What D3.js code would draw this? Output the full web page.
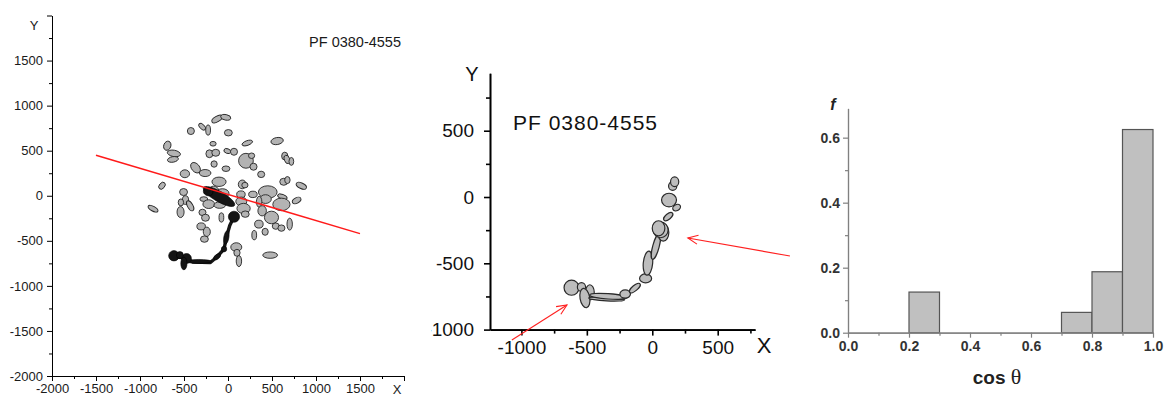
<!DOCTYPE html>
<html><head><meta charset="utf-8">
<script src="https://cdn.jsdelivr.net/npm/d3@7"></script>
<style>
body{margin:0;background:#fff}
svg{display:block}
text{font-family:"Liberation Sans",Arial,Helvetica,sans-serif}
</style>
</head><body>
<svg id="fig" width="1164" height="396"></svg>
<script>
// ---------------- data ----------------
const sampleName = "PF 0380-4555";

// Overview: every grain in the section, [x, y, rx, ry, rotation deg]
const grains = [
  [-124,851,56,26,-30],[-26,870,49,26,10],[-294,766,41,22,45],[-226,729,23,48,0],
  [-422,718,34,33,0],[4,699,38,30,0],[-170,577,30,22,0],[219,585,53,22,-20],
  [558,607,60,33,-10],[-690,555,34,44,20],[-615,470,64,30,10],[-626,403,53,26,-10],
  [-211,466,34,37,0],[-139,477,38,33,0],[-8,496,34,22,20],[68,488,34,33,0],
  [204,388,71,70,0],[268,444,30,26,0],[290,322,34,33,0],[645,440,30,37,0],
  [671,403,26,41,-20],[720,381,23,37,0],[-158,352,30,30,0],[-369,311,38,56,-40],
  [-260,252,56,33,0],[-23,300,38,26,0],[377,237,34,30,0],[-490,244,45,37,0],
  [-750,111,26,37,40],[-102,155,68,44,0],[162,126,38,41,0],[633,155,38,33,0],
  [675,174,26,33,0],[833,111,53,26,25],[-505,41,38,33,0],[-483,-48,30,41,0],
  [-535,-74,26,33,0],[-430,-111,26,52,-30],[-852,-144,53,22,30],[-539,-181,34,52,0],
  [-275,-37,38,22,0],[-219,-93,56,41,0],[-64,26,64,44,0],[-162,63,45,37,0],
  [-94,-104,56,30,0],[147,15,41,33,0],[151,-63,53,41,0],[177,-141,64,48,0],
  [196,-204,38,30,0],[192,118,30,26,0],[283,15,41,30,0],[452,41,90,59,0],
  [426,-37,56,41,0],[618,-11,49,22,20],[607,-96,83,59,0],[780,-52,45,26,-30],
  [354,-67,26,52,0],[388,-167,41,48,0],[494,-241,68,59,0],[351,-315,41,37,0],
  [422,-400,30,33,0],[543,-337,34,30,0],[607,-359,34,30,0],[701,-315,26,56,0],
  [298,-437,23,44,0],[-290,-185,34,30,0],[-256,-244,38,33,0],[-75,-241,23,44,0],
  [-305,-340,41,33,0],[-241,-400,34,44,0],[-268,-481,38,30,0],[94,-570,53,41,0],
  [102,-633,30,33,0],[124,-725,26,52,0],[479,-659,71,30,0]
];

// Highlighted chain in the overview (dark)
const chainGrains = [
  [-102,-8,185,52,30],[-226,44,50,40,20],[68,-233,58,56,0],[-19,-463,26,70,10],
  [-45,-592,28,28,0],[-124,-677,24,40,50],[-332,-729,132,20,0],[-471,-696,50,50,0],
  [-501,-751,32,64,0],[-614,-666,55,52,0],[-547,-659,36,36,0]
];
const chainLinks = [
  [-614,-666],[-471,-700],[-400,-735],[-200,-740],[-124,-677],
  [-45,-592],[-19,-463],[20,-330],[68,-233]
];

// Fitted principal direction
const fitLine = [[-1500,450],[1500,-420]];

// Isolated chain (middle panel), [x, y, rx, ry, rotation deg]
const chainTrack = [
  [-617,-684,51,51,0],[-541,-679,28,30,0],[-477,-719,30,51,0],[-515,-762,33,66,-10],
  [-349,-769,122,13,3],[-337,-749,127,18,4],[-207,-732,36,28,0],[-133,-687,46,18,-40],
  [-51,-614,41,30,0],[-33,-499,32,81,5],[28,-373,22,89,15],[84,-268,38,58,0],
  [64,-248,51,53,0],[48,-236,43,51,0],[122,-148,38,18,-40],[186,-80,28,20,-30],
  [128,-23,51,46,0],[156,83,28,30,0],[171,115,28,33,0]
];
// Pointer arrows, in middle-panel data units: [from, to]
const pointers = [
  [[-1073,-1078],[-652,-815]],
  [[1052,-445],[272,-309]]
];

// Histogram of cos(theta)
const binStart = [0.2, 0.7, 0.8, 0.9];
const binWidth = 0.1;
const binFreq  = [0.125, 0.0625, 0.1875, 0.625];

// Axis ticks
const ovMajor = d3.range(-2000, 2001, 500);
const ovMinor = d3.range(-1750, 2000, 500);
const chMajorX = [-1000,-500,0,500];
const chMinorX = [-750,-250,250,750];
const chMajorY = [-1000,-500,0,500];
const chMinorY = [-750,-250,250,750];
const hMajorX = [0,0.2,0.4,0.6,0.8,1.0];
const hMinorX = [0.1,0.3,0.5,0.7,0.9];
const hMajorY = [0,0.2,0.4,0.6];
const hMinorY = [0.1,0.3,0.5];

// ---------------- drawing ----------------
const svg = d3.select("#fig");
svg.append("rect").attr("width",1164).attr("height",396).attr("fill","#fff");

function styleAxis(sel, color, width){
  sel.select(".domain").attr("stroke", color).attr("stroke-width", width);
  sel.selectAll(".tick line").attr("stroke", color).attr("stroke-width", width);
}
// grow: radius of the drawn outline relative to the grain's core axes
function drawEllipses(g, data, sx, sy, fill, stroke, sw, grow){
  g.selectAll(null).data(data).join("ellipse")
    .attr("transform", d => `translate(${sx(d[0])},${sy(d[1])}) rotate(${d[4]})`)
    .attr("rx", d => Math.abs(sx(d[2]) - sx(0)) * grow)
    .attr("ry", d => Math.abs(sy(d[3]) - sy(0)) * grow)
    .attr("fill", fill).attr("stroke", stroke).attr("stroke-width", sw);
}

// ===== Panel 1: overview =====
{
  const x = d3.scaleLinear([-2000,2000],[52,404]);
  const y = d3.scaleLinear([-2000,2000],[376,15.5]);
  const g = svg.append("g");

  drawEllipses(g.append("g"), grains, x, y, "#b3b3b3", "#262626", 0.9, 1.18);

  g.append("path")
    .attr("d", d3.line().x(d=>x(d[0])).y(d=>y(d[1])).curve(d3.curveLinear)(chainLinks))
    .attr("fill","none").attr("stroke","#161616").attr("stroke-width",3.4)
    .attr("stroke-linejoin","round").attr("stroke-linecap","round");
  drawEllipses(g.append("g"), chainGrains, x, y, "#141414", "#000", 0.6, 1.1);

  g.append("line")
    .attr("x1", x(fitLine[0][0])).attr("y1", y(fitLine[0][1]))
    .attr("x2", x(fitLine[1][0])).attr("y2", y(fitLine[1][1]))
    .attr("stroke","#ff1a1a").attr("stroke-width",1.5);

  const fmt = d => d === 2000 ? "" : String(d);
  const ax = g.append("g").attr("transform",`translate(0,${y(-2000)})`);
  ax.call(d3.axisBottom(x).tickValues(ovMinor).tickSize(3).tickFormat("").tickSizeOuter(0));
  styleAxis(ax,"#000",1);
  const axM = g.append("g").attr("transform",`translate(0,${y(-2000)})`);
  axM.call(d3.axisBottom(x).tickValues(ovMajor).tickSize(5).tickPadding(3).tickFormat(fmt).tickSizeOuter(0));
  styleAxis(axM,"#000",1);
  axM.selectAll("text").attr("font-size",13).attr("fill","#1a1a1a");

  const ay = g.append("g").attr("transform",`translate(${x(-2000)},0)`);
  ay.call(d3.axisLeft(y).tickValues(ovMinor).tickSize(3).tickFormat("").tickSizeOuter(0));
  styleAxis(ay,"#000",1);
  const ayM = g.append("g").attr("transform",`translate(${x(-2000)},0)`);
  ayM.call(d3.axisLeft(y).tickValues(ovMajor).tickSize(5).tickPadding(4).tickFormat(fmt).tickSizeOuter(0));
  styleAxis(ayM,"#000",1);
  ayM.selectAll("text").attr("font-size",13).attr("fill","#1a1a1a");

  g.append("text").attr("x",34).attr("y",30).attr("text-anchor","middle")
    .attr("font-size",13).attr("fill","#1a1a1a").text("Y");
  g.append("text").attr("x",397).attr("y",394).attr("text-anchor","middle")
    .attr("font-size",13).attr("fill","#1a1a1a").text("X");
  g.append("text").attr("x",401).attr("y",47).attr("text-anchor","end")
    .attr("font-size",14.5).attr("fill","#1a1a1a").text(sampleName);
}

// ===== Panel 2: isolated chain =====
{
  const x = d3.scaleLinear([-1240,785],[490,755]);
  const y = d3.scaleLinear([-1000,933],[329.6,73.3]);
  svg.append("clipPath").attr("id","clipB")
    .append("rect").attr("x",431).attr("y",0).attr("width",733).attr("height",396);
  const g = svg.append("g").attr("clip-path","url(#clipB)");

  drawEllipses(g.append("g"), chainTrack, x, y, "#bdbdbd", "#2a2a2a", 1.2, 1.12);

  const ax = g.append("g").attr("transform",`translate(0,${y(-1000)})`);
  ax.call(d3.axisBottom(x).tickValues(chMinorX).tickSize(4).tickFormat("").tickSizeOuter(0));
  styleAxis(ax,"#000",1.6);
  const axM = g.append("g").attr("transform",`translate(0,${y(-1000)})`);
  axM.call(d3.axisBottom(x).tickValues(chMajorX).tickSize(6).tickPadding(5).tickFormat(d=>String(d)).tickSizeOuter(0));
  styleAxis(axM,"#000",1.6);
  axM.selectAll("text").attr("font-size",19).attr("fill","#111");

  const ay = g.append("g").attr("transform",`translate(${x(-1240)},0)`);
  ay.call(d3.axisLeft(y).tickValues(chMinorY).tickSize(4).tickFormat("").tickSizeOuter(0));
  styleAxis(ay,"#000",1.6);
  const ayM = g.append("g").attr("transform",`translate(${x(-1240)},0)`);
  ayM.call(d3.axisLeft(y).tickValues(chMajorY).tickSize(6).tickPadding(10).tickFormat(d=>String(d)).tickSizeOuter(0));
  styleAxis(ayM,"#000",1.6);
  ayM.selectAll("text").attr("font-size",19).attr("fill","#111");

  g.append("text").attr("x",472).attr("y",81).attr("text-anchor","middle")
    .attr("font-size",20).attr("fill","#111").text("Y");
  g.append("text").attr("x",764).attr("y",353).attr("text-anchor","middle")
    .attr("font-size",22).attr("fill","#111").text("X");
  g.append("text").attr("x",513).attr("y",130)
    .attr("font-size",21).attr("fill","#111").attr("textLength",144).text(sampleName);

  // red pointers with open heads
  pointers.forEach(([p0,p1]) => {
    const x0 = x(p0[0]), y0 = y(p0[1]), x1 = x(p1[0]), y1 = y(p1[1]);
    const a = Math.atan2(y1-y0, x1-x0), L = 11, h = 0.42;
    const pg = svg.append("g").attr("stroke","#ff2020").attr("stroke-width",1.1).attr("fill","none");
    pg.append("line").attr("x1",x0).attr("y1",y0).attr("x2",x1).attr("y2",y1);
    pg.append("path").attr("d",
      `M${x1-L*Math.cos(a-h)},${y1-L*Math.sin(a-h)}L${x1},${y1}L${x1-L*Math.cos(a+h)},${y1-L*Math.sin(a+h)}`);
  });
}

// ===== Panel 3: histogram =====
{
  const x = d3.scaleLinear([0,1],[848,1153]);
  const y = d3.scaleLinear([0,0.69],[332.7,108.4]);
  const g = svg.append("g");

  g.selectAll(null).data(binStart).join("rect")
    .attr("x", d => x(d)).attr("width", d => x(d+binWidth) - x(d))
    .attr("y", (d,i) => y(binFreq[i])).attr("height", (d,i) => y(0) - y(binFreq[i]))
    .attr("fill","#c0c0c0").attr("stroke","#555").attr("stroke-width",1.2);

  const axisCol = "#808080";
  const ax = g.append("g").attr("transform",`translate(0,${y(0)})`);
  ax.call(d3.axisBottom(x).tickValues(hMinorX).tickSize(3).tickFormat("").tickSizeOuter(0));
  styleAxis(ax,axisCol,1.2);
  const axM = g.append("g").attr("transform",`translate(0,${y(0)})`);
  axM.call(d3.axisBottom(x).tickValues(hMajorX).tickSize(5).tickPadding(3).tickFormat(d3.format(".1f")).tickSizeOuter(0));
  styleAxis(axM,axisCol,1.2);
  axM.selectAll("text").attr("font-size",14).attr("font-weight","bold").attr("fill","#333");

  const ay = g.append("g").attr("transform",`translate(${x(0)},0)`);
  ay.call(d3.axisLeft(y).tickValues(hMinorY).tickSize(3).tickFormat("").tickSizeOuter(0));
  styleAxis(ay,axisCol,1.2);
  const ayM = g.append("g").attr("transform",`translate(${x(0)},0)`);
  ayM.call(d3.axisLeft(y).tickValues(hMajorY).tickSize(5).tickPadding(3).tickFormat(d3.format(".1f")).tickSizeOuter(0));
  styleAxis(ayM,axisCol,1.2);
  ayM.selectAll("text").attr("font-size",14).attr("font-weight","bold").attr("fill","#333");

  g.append("text").attr("x",833).attr("y",110).attr("text-anchor","middle")
    .attr("font-size",16).attr("font-weight","bold").attr("font-style","italic").attr("fill","#222").text("f");
  const t = g.append("text").attr("x",997).attr("y",384).attr("text-anchor","middle")
    .attr("font-size",19).attr("font-weight","bold").attr("fill","#222");
  t.append("tspan").text("cos ");
  t.append("tspan").attr("font-family","'Liberation Serif','DejaVu Serif',serif")
    .attr("font-weight","normal").attr("font-size",22).text("θ");
}
</script>
</body></html>
